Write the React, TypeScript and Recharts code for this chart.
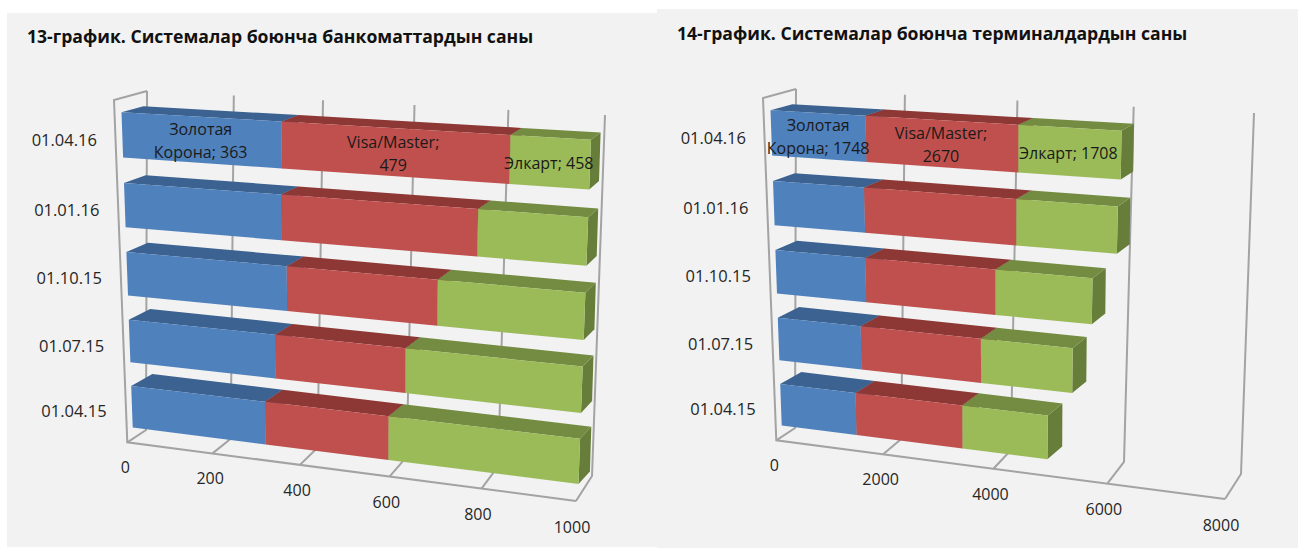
import React from "react";
import { Bar, BarChart, CartesianGrid, LabelList, XAxis, YAxis } from "recharts";

const categories = ["01.04.16", "01.01.16", "01.10.15", "01.07.15", "01.04.15"];
const seriesNames = ["zk", "visa", "elkart"];

// 13-график (the green part runs past the axis maximum in the source)
const atmZolotaya = [363, 360, 371, 343, 318];
const atmVisa = [479, 420, 328, 289, 278];
const atmElkart = [458, 450, 440, 430, 420];
const atmTicks = [0, 200, 400, 600, 800, 1000];

// 14-график
const posZolotaya = [1748, 1695, 1690, 1575, 1450];
const posVisa = [2670, 2690, 2335, 2190, 1975];
const posElkart = [1708, 1700, 1660, 1600, 1520];
const posTicks = [0, 2000, 4000, 6000, 8000];

const labelLines = [["Золотая", "Корона; "], ["Visa/Master;", ""], ["", "Элкарт; "]];

const W = 649;
const H = 548;
const FONT = "'Open Sans', 'Noto Sans', sans-serif";
const GRID = "#a3a3a3";

const fills = [
  { front: "#4f81bd", top: "#3c6291", side: "#385d8a" },
  { front: "#c0504d", top: "#8e3836", side: "#823432" },
  { front: "#9bbb59", top: "#748c42", side: "#677d3a" },
];

type Pt = [number, number];

// rectangle -> quad perspective map, gives the 3D look
function quadMap(p0: Pt, p1: Pt, p2: Pt, p3: Pt) {
  const dx1 = p1[0] - p2[0];
  const dx2 = p3[0] - p2[0];
  const sx = p0[0] - p1[0] + p2[0] - p3[0];
  const dy1 = p1[1] - p2[1];
  const dy2 = p3[1] - p2[1];
  const sy = p0[1] - p1[1] + p2[1] - p3[1];
  const den = dx1 * dy2 - dx2 * dy1;
  const g = (sx * dy2 - dx2 * sy) / den;
  const h = (dx1 * sy - sx * dy1) / den;
  const a = p1[0] - p0[0] + g * p1[0];
  const b = p3[0] - p0[0] + h * p3[0];
  const d = p1[1] - p0[1] + g * p1[1];
  const e = p3[1] - p0[1] + h * p3[1];
  return (x: number, y: number): Pt => {
    const u = x / W;
    const v = y / H;
    const w = g * u + h * v + 1;
    return [(a * u + b * v + p0[0]) / w, (d * u + e * v + p0[1]) / w];
  };
}

const barFront = quadMap([121, 99.4], [591.5, 125.6], [578, 496.7], [133.1, 439.3]);
const barBack = quadMap([143, 93.7], [601, 118.6], [589.5, 484], [154, 426.5]);
const wall = quadMap([147, 91], [605, 115], [592, 476], [146, 430]);
const floorFront = quadMap([114, 100], [575, 137], [576, 501], [127.3, 442.3]);

const poly = (pts: Pt[]) => pts.map((p) => p[0].toFixed(1) + "," + p[1].toFixed(1)).join(" ");

function Box3D(props: any, colorIndex: number) {
  const { x, y, width, height } = props;
  const x2 = Math.min(x + width, W);
  if (x >= W) return <g />;
  const y2 = y + height;
  const c = fills[colorIndex];
  return (
    <g>
      <polygon points={poly([barFront(x2, y), barBack(x2, y), barBack(x2, y2), barFront(x2, y2)])} fill={c.side} />
      <polygon points={poly([barFront(x, y), barBack(x, y), barBack(x2, y), barFront(x2, y)])} fill={c.top} />
      <polygon points={poly([barFront(x, y), barFront(x2, y), barFront(x2, y2), barFront(x, y2)])} fill={c.front} />
    </g>
  );
}

function GridLine(props: any) {
  const u = props.x1;
  const lines: Pt[][] = [[wall(u, 0), wall(u, H), floorFront(u, H)]];
  if (u <= 0.01) {
    lines.push([wall(0, 0), floorFront(0, 0), floorFront(0, H), floorFront(W, H)]);
  }
  return (
    <g key={props.key ?? u}>
      {lines.map((l, i) => (
        <polyline key={i} points={poly(l)} fill="none" stroke={GRID} strokeWidth={2} />
      ))}
    </g>
  );
}

function ValueTick(props: any) {
  const [px, py] = floorFront(props.x, H);
  const t = props.x / W;
  return (
    <text x={px - 2 - 2 * t} y={py + 24.5 + t} textAnchor="middle" dominantBaseline="central" fontSize={16} fontFamily={FONT} fill="#262626">
      {props.payload.value}
    </text>
  );
}

function CategoryTick(props: any) {
  const [px, py] = barFront(0, props.y);
  return (
    <text x={px - 58} y={py + 4} textAnchor="middle" dominantBaseline="central" fontSize={16.5} fontFamily={FONT} fill="#262626">
      {props.payload.value}
    </text>
  );
}

function SegmentLabel(props: any, colorIndex: number) {
  const { x, y, width, height, value, index } = props;
  if (index !== 0) return null;
  const x2 = Math.min(x + width, W);
  const [px, py] = barFront(x + (x2 - x) / 2, y + height / 2);
  const [first, second] = labelLines[colorIndex];
  const cx = colorIndex === 2 ? px - 1 : px;
  return (
    <text textAnchor="middle" fontSize={16} fontFamily={FONT} fill="#1a1a1a">
      {first ? <tspan x={cx} y={py + 1 - 11.5} dominantBaseline="central">{first}</tspan> : null}
      <tspan x={cx} y={first ? py + 1 + 11.5 : py + 1} dominantBaseline="central">{second + value}</tspan>
    </text>
  );
}

function StackedPanel({ left, top, rows, ticks }: { left: number; top: number; rows: any[]; ticks: number[] }) {
  return (
    <div style={{ position: "absolute", left, top, width: W, height: H }}>
      <BarChart
        width={W}
        height={H}
        data={rows}
        layout="vertical"
        margin={{ top: 0, right: 0, bottom: 0, left: 0 }}
        barCategoryGap="18%"
        style={{ overflow: "visible" }}
      >
        <CartesianGrid horizontal={false} vertical={GridLine} />
        <XAxis
          type="number"
          height={1}
          mirror
          domain={[ticks[0], ticks[ticks.length - 1]]}
          ticks={ticks}
          allowDataOverflow
          interval={0}
          axisLine={false}
          tickLine={false}
          tick={ValueTick}
        />
        <YAxis type="category" dataKey="date" width={1} mirror interval={0} axisLine={false} tickLine={false} tick={CategoryTick} />
        {seriesNames.map((name, i) => (
          <Bar key={name} dataKey={name} stackId="a" isAnimationActive={false} shape={(p: any) => Box3D(p, i)}>
            <LabelList dataKey={name} content={(p: any) => SegmentLabel(p, i)} />
          </Bar>
        ))}
      </BarChart>
    </div>
  );
}

const buildRows = (a: number[], b: number[], c: number[]) =>
  categories.map((date, i) => ({ date, zk: a[i], visa: b[i], elkart: c[i] }));

const titleStyle: React.CSSProperties = {
  position: "absolute",
  fontFamily: FONT,
  fontWeight: 700,
  fontSize: 17.6,
  lineHeight: "20px",
  color: "#111",
  whiteSpace: "nowrap",
};

export default function App() {
  return (
    <div style={{ position: "absolute", left: 0, top: 0, width: 1298, height: 548, background: "#fff", overflow: "hidden" }}>
      <div style={{ position: "absolute", left: 7, top: 13, width: 650, height: 534, background: "#f2f2f2" }} />
      <div style={{ position: "absolute", left: 657, top: 9, width: 641, height: 539, background: "#f2f2f2" }} />
      <div style={{ ...titleStyle, left: 27, top: 26 }}>13-график. Системалар боюнча банкоматтардын саны</div>
      <div style={{ ...titleStyle, left: 677, top: 23 }}>14-график. Системалар боюнча терминалдардын саны</div>
      <StackedPanel left={0} top={0} rows={buildRows(atmZolotaya, atmVisa, atmElkart)} ticks={atmTicks} />
      <StackedPanel left={649} top={-2} rows={buildRows(posZolotaya, posVisa, posElkart)} ticks={posTicks} />
    </div>
  );
}
